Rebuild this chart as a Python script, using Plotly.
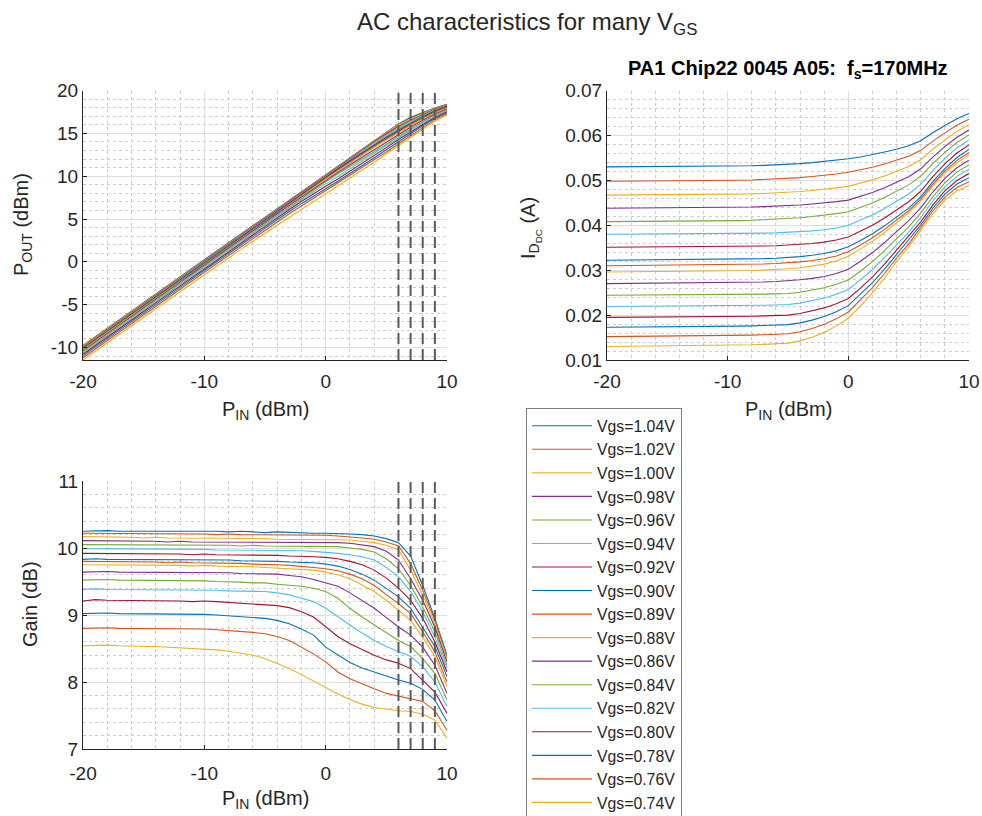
import plotly.graph_objects as go

W, H = 982, 816
FONT = "Liberation Sans, Arial, Helvetica, sans-serif"
TXT = "#262626"

# ---------------- data ----------------
pin_dbm = list(range(-20, 11))

vgs_labels = ["Vgs=1.04V", "Vgs=1.02V", "Vgs=1.00V", "Vgs=0.98V", "Vgs=0.96V", "Vgs=0.94V",
              "Vgs=0.92V", "Vgs=0.90V", "Vgs=0.89V", "Vgs=0.88V", "Vgs=0.86V", "Vgs=0.84V",
              "Vgs=0.82V", "Vgs=0.80V", "Vgs=0.78V", "Vgs=0.76V", "Vgs=0.74V"]

# Gain (dB) versus Pin, one row per Vgs
gain_db = [
    [10.25, 10.26, 10.26, 10.25, 10.25, 10.25, 10.26, 10.25, 10.25, 10.26, 10.25, 10.25, 10.24, 10.25, 10.24, 10.23, 10.24, 10.23, 10.23, 10.22, 10.22, 10.22, 10.21, 10.20, 10.18, 10.14, 10.08, 9.88, 9.44, 8.95, 8.40],
    [10.22, 10.22, 10.21, 10.21, 10.22, 10.21, 10.21, 10.22, 10.21, 10.21, 10.21, 10.20, 10.21, 10.20, 10.20, 10.20, 10.19, 10.19, 10.19, 10.19, 10.19, 10.18, 10.17, 10.15, 10.13, 10.09, 10.03, 9.77, 9.37, 8.92, 8.37],
    [10.17, 10.17, 10.16, 10.16, 10.16, 10.15, 10.16, 10.15, 10.15, 10.15, 10.15, 10.14, 10.15, 10.14, 10.14, 10.14, 10.13, 10.13, 10.13, 10.13, 10.13, 10.12, 10.12, 10.10, 10.08, 10.04, 9.97, 9.67, 9.30, 8.87, 8.34],
    [10.11, 10.11, 10.10, 10.10, 10.10, 10.10, 10.10, 10.09, 10.10, 10.09, 10.09, 10.09, 10.09, 10.08, 10.08, 10.08, 10.08, 10.08, 10.08, 10.08, 10.08, 10.08, 10.07, 10.05, 10.02, 9.95, 9.82, 9.54, 9.22, 8.82, 8.30],
    [10.05, 10.05, 10.05, 10.04, 10.05, 10.04, 10.04, 10.04, 10.04, 10.04, 10.04, 10.04, 10.04, 10.03, 10.04, 10.03, 10.03, 10.03, 10.03, 10.03, 10.03, 10.02, 10.00, 9.98, 9.94, 9.84, 9.69, 9.44, 9.12, 8.75, 8.25],
    [9.99, 9.99, 9.99, 9.98, 9.99, 9.98, 9.98, 9.98, 9.98, 9.98, 9.98, 9.97, 9.97, 9.97, 9.97, 9.97, 9.96, 9.96, 9.96, 9.95, 9.94, 9.92, 9.90, 9.87, 9.82, 9.71, 9.57, 9.35, 9.05, 8.67, 8.20],
    [9.92, 9.92, 9.91, 9.91, 9.92, 9.91, 9.91, 9.91, 9.91, 9.90, 9.91, 9.90, 9.90, 9.90, 9.89, 9.89, 9.89, 9.88, 9.88, 9.87, 9.86, 9.84, 9.80, 9.75, 9.67, 9.55, 9.40, 9.22, 8.95, 8.60, 8.15],
    [9.83, 9.84, 9.83, 9.83, 9.83, 9.82, 9.83, 9.82, 9.82, 9.82, 9.83, 9.82, 9.82, 9.81, 9.81, 9.80, 9.80, 9.79, 9.79, 9.78, 9.76, 9.73, 9.68, 9.61, 9.52, 9.40, 9.27, 9.10, 8.82, 8.53, 8.08],
    [9.80, 9.80, 9.79, 9.79, 9.79, 9.79, 9.79, 9.78, 9.79, 9.78, 9.78, 9.78, 9.77, 9.77, 9.76, 9.76, 9.75, 9.74, 9.73, 9.71, 9.69, 9.66, 9.61, 9.54, 9.44, 9.31, 9.17, 9.02, 8.75, 8.45, 8.00],
    [9.75, 9.75, 9.75, 9.74, 9.75, 9.74, 9.74, 9.74, 9.74, 9.73, 9.74, 9.73, 9.73, 9.72, 9.72, 9.71, 9.70, 9.70, 9.69, 9.67, 9.64, 9.60, 9.54, 9.45, 9.35, 9.22, 9.07, 8.92, 8.67, 8.38, 7.93],
    [9.64, 9.65, 9.65, 9.64, 9.64, 9.63, 9.64, 9.64, 9.63, 9.63, 9.64, 9.63, 9.63, 9.62, 9.62, 9.62, 9.61, 9.59, 9.57, 9.53, 9.48, 9.43, 9.33, 9.22, 9.10, 8.96, 8.82, 8.70, 8.52, 8.25, 7.83],
    [9.52, 9.53, 9.53, 9.52, 9.52, 9.52, 9.51, 9.51, 9.51, 9.51, 9.51, 9.50, 9.50, 9.49, 9.48, 9.48, 9.46, 9.45, 9.43, 9.40, 9.35, 9.25, 9.10, 8.97, 8.85, 8.73, 8.62, 8.53, 8.35, 8.13, 7.73],
    [9.38, 9.39, 9.38, 9.38, 9.38, 9.37, 9.38, 9.37, 9.37, 9.37, 9.37, 9.37, 9.36, 9.36, 9.35, 9.35, 9.33, 9.30, 9.25, 9.20, 9.10, 8.97, 8.85, 8.73, 8.62, 8.53, 8.45, 8.38, 8.23, 8.00, 7.63],
    [9.21, 9.23, 9.22, 9.22, 9.21, 9.21, 9.21, 9.21, 9.21, 9.20, 9.21, 9.20, 9.19, 9.18, 9.17, 9.16, 9.14, 9.11, 9.05, 8.97, 8.82, 8.68, 8.57, 8.48, 8.40, 8.33, 8.28, 8.20, 8.03, 7.85, 7.53],
    [9.02, 9.03, 9.03, 9.02, 9.02, 9.02, 9.02, 9.01, 9.01, 9.01, 9.01, 9.00, 8.99, 8.98, 8.97, 8.95, 8.92, 8.87, 8.79, 8.70, 8.52, 8.40, 8.29, 8.21, 8.15, 8.08, 8.03, 7.98, 7.89, 7.73, 7.41],
    [8.80, 8.81, 8.81, 8.80, 8.80, 8.80, 8.80, 8.79, 8.79, 8.79, 8.79, 8.78, 8.77, 8.76, 8.74, 8.72, 8.68, 8.62, 8.52, 8.42, 8.30, 8.15, 8.05, 7.97, 7.90, 7.83, 7.79, 7.75, 7.71, 7.57, 7.28],
    [8.54, 8.55, 8.55, 8.54, 8.53, 8.53, 8.53, 8.52, 8.51, 8.51, 8.50, 8.48, 8.46, 8.43, 8.40, 8.35, 8.28, 8.20, 8.11, 8.01, 7.92, 7.82, 7.74, 7.67, 7.62, 7.59, 7.57, 7.56, 7.52, 7.43, 7.16],
]

# DC drain current (A) versus Pin, one row per Vgs
id_dc_a = [
    [0.05300, 0.05301, 0.05302, 0.05303, 0.05304, 0.05305, 0.05307, 0.05309, 0.05311, 0.05313, 0.05314, 0.05320, 0.05325, 0.05334, 0.05343, 0.05356, 0.05372, 0.05394, 0.05417, 0.05446, 0.05480, 0.0552, 0.0557, 0.0563, 0.0569, 0.0577, 0.0588, 0.0606, 0.0622, 0.0637, 0.0649],
    [0.04980, 0.04981, 0.04982, 0.04984, 0.04985, 0.04986, 0.04988, 0.04990, 0.04992, 0.04994, 0.04996, 0.05002, 0.05008, 0.05018, 0.05028, 0.05042, 0.05060, 0.05084, 0.05110, 0.05142, 0.05180, 0.05233, 0.05292, 0.05363, 0.05442, 0.05538, 0.05667, 0.05873, 0.06057, 0.06225, 0.0636],
    [0.04670, 0.04671, 0.04672, 0.04674, 0.04675, 0.04676, 0.04678, 0.04680, 0.04682, 0.04684, 0.04686, 0.04692, 0.04698, 0.04708, 0.04718, 0.04732, 0.04750, 0.04774, 0.04800, 0.04832, 0.04870, 0.04936, 0.0501, 0.05096, 0.05193, 0.05307, 0.05458, 0.05693, 0.05902, 0.06091, 0.0624],
    [0.04380, 0.04381, 0.04382, 0.04383, 0.04384, 0.04385, 0.04387, 0.04389, 0.04391, 0.04393, 0.04394, 0.04400, 0.04405, 0.04414, 0.04423, 0.04436, 0.04452, 0.04474, 0.04497, 0.04526, 0.04560, 0.0464, 0.04728, 0.04833, 0.04948, 0.05081, 0.05256, 0.05518, 0.0575, 0.05958, 0.0612],
    [0.04080, 0.04081, 0.04083, 0.04084, 0.04085, 0.04087, 0.04089, 0.04091, 0.04093, 0.04095, 0.04098, 0.04104, 0.04111, 0.04122, 0.04133, 0.04148, 0.04168, 0.04194, 0.04223, 0.04258, 0.04300, 0.04394, 0.04497, 0.04616, 0.0475, 0.04899, 0.05092, 0.05374, 0.05622, 0.05841, 0.0601],
    [0.03800, 0.03801, 0.03802, 0.03803, 0.03804, 0.03805, 0.03806, 0.03807, 0.03808, 0.03810, 0.03812, 0.03815, 0.03818, 0.03824, 0.03830, 0.03840, 0.03854, 0.03874, 0.03900, 0.03940, 0.04000, 0.0411, 0.0423, 0.04371, 0.04526, 0.04695, 0.0491, 0.05218, 0.05488, 0.05721, 0.0590],
    [0.03510, 0.03511, 0.03512, 0.03514, 0.03515, 0.03516, 0.03517, 0.03518, 0.03519, 0.03522, 0.03524, 0.03527, 0.03531, 0.03538, 0.03545, 0.03556, 0.03572, 0.03595, 0.03625, 0.03671, 0.03740, 0.03865, 0.04002, 0.0416, 0.04337, 0.04523, 0.04757, 0.05081, 0.05366, 0.05608, 0.0579],
    [0.03220, 0.03222, 0.03223, 0.03225, 0.03226, 0.03228, 0.03229, 0.03231, 0.03232, 0.03235, 0.03238, 0.03243, 0.03247, 0.03256, 0.03265, 0.03280, 0.03301, 0.03331, 0.03370, 0.03430, 0.03520, 0.03659, 0.03811, 0.03987, 0.0418, 0.04381, 0.04633, 0.0497, 0.05263, 0.05508, 0.0569],
    [0.03100, 0.03102, 0.03103, 0.03105, 0.03106, 0.03108, 0.03109, 0.03111, 0.03112, 0.03116, 0.03119, 0.03123, 0.03128, 0.03137, 0.03147, 0.03162, 0.03184, 0.03215, 0.03255, 0.03317, 0.03410, 0.03558, 0.03722, 0.03907, 0.04113, 0.04323, 0.04581, 0.04915, 0.05207, 0.05445, 0.0562],
    [0.02960, 0.02962, 0.02964, 0.02965, 0.02967, 0.02969, 0.02971, 0.02972, 0.02974, 0.02978, 0.02981, 0.02986, 0.02992, 0.03002, 0.03013, 0.03030, 0.03055, 0.03090, 0.03135, 0.03205, 0.03310, 0.03468, 0.03641, 0.03839, 0.04057, 0.04275, 0.04539, 0.04872, 0.0516, 0.05391, 0.0556],
    [0.02700, 0.02702, 0.02703, 0.02705, 0.02706, 0.02708, 0.02710, 0.02711, 0.02713, 0.02716, 0.02719, 0.02724, 0.02729, 0.02738, 0.02748, 0.02764, 0.02786, 0.02818, 0.02860, 0.02924, 0.03020, 0.03197, 0.03392, 0.03615, 0.03861, 0.04101, 0.04388, 0.0474, 0.05042, 0.0528, 0.0545],
    [0.02440, 0.02441, 0.02442, 0.02443, 0.02444, 0.02445, 0.02447, 0.02449, 0.02450, 0.02452, 0.02454, 0.02457, 0.02460, 0.02466, 0.02472, 0.02481, 0.02508, 0.02552, 0.02610, 0.02685, 0.02780, 0.02975, 0.03191, 0.03435, 0.03703, 0.03962, 0.04271, 0.04633, 0.04944, 0.05183, 0.0535],
    [0.02190, 0.02191, 0.02192, 0.02193, 0.02195, 0.02196, 0.02198, 0.02200, 0.02201, 0.02203, 0.02205, 0.02209, 0.02213, 0.02219, 0.02226, 0.02236, 0.02266, 0.02315, 0.02380, 0.02464, 0.02570, 0.02784, 0.03015, 0.0328, 0.0357, 0.03846, 0.04167, 0.0454, 0.04853, 0.05089, 0.0525],
    [0.01950, 0.01951, 0.01953, 0.01954, 0.01955, 0.01956, 0.01958, 0.01961, 0.01963, 0.01965, 0.01967, 0.01971, 0.01975, 0.01982, 0.01990, 0.02000, 0.02034, 0.02089, 0.02160, 0.02252, 0.02370, 0.02601, 0.02851, 0.03135, 0.03446, 0.03738, 0.04074, 0.04449, 0.04766, 0.04997, 0.0515],
    [0.01730, 0.01731, 0.01733, 0.01734, 0.01736, 0.01737, 0.01740, 0.01742, 0.01744, 0.01747, 0.01749, 0.01754, 0.01759, 0.01766, 0.01776, 0.01788, 0.01826, 0.01888, 0.01970, 0.02076, 0.02210, 0.02455, 0.0272, 0.03022, 0.03353, 0.03658, 0.04006, 0.04379, 0.04695, 0.04918, 0.0506],
    [0.01520, 0.01522, 0.01523, 0.01525, 0.01527, 0.01528, 0.01531, 0.01534, 0.01537, 0.01539, 0.01542, 0.01548, 0.01553, 0.01561, 0.01572, 0.01586, 0.01630, 0.01702, 0.01795, 0.01916, 0.02070, 0.02328, 0.02609, 0.02926, 0.03271, 0.03587, 0.03943, 0.04318, 0.04628, 0.0484, 0.0497],
    [0.01300, 0.01302, 0.01304, 0.01306, 0.01308, 0.01310, 0.01313, 0.01316, 0.01319, 0.01322, 0.01325, 0.01332, 0.01338, 0.01347, 0.01360, 0.01376, 0.01426, 0.01508, 0.01615, 0.01754, 0.01930, 0.02201, 0.02496, 0.0283, 0.03193, 0.0352, 0.03886, 0.04255, 0.04561, 0.04762, 0.0488],
]

compression_pin_dbm = [6, 7, 8, 9]

x_ticks = [-20, -10, 0, 10]
pout_ticks = [-10, -5, 0, 5, 10, 15, 20]
id_ticks = [0.01, 0.02, 0.03, 0.04, 0.05, 0.06, 0.07]
gain_ticks = [7, 8, 9, 10, 11]

matlab_colors = ["#0072BD", "#D95319", "#EDB120", "#7E2F8E", "#77AC30", "#4DBEEE", "#A2142F"]

# ---------------- layout helpers ----------------
def px_x(p):
    return p / W

def px_y(p):
    return 1 - p / H

TL = (83, 447, 90.5, 360)
TR = (607, 969, 90.5, 360)
BL = (83, 447, 481, 749)


def dom(box):
    x0, x1, y0, y1 = box
    return [px_x(x0), px_x(x1)], [px_y(y1), px_y(y0)]


def axis(domain, rng, tickvals, ticktext, minor_dtick, anchor, standoff=0):
    return dict(
        domain=domain, range=rng, anchor=anchor,
        tickmode="array", tickvals=tickvals, ticktext=ticktext,
        showline=True, linecolor=TXT, linewidth=1, mirror=False,
        ticks="inside", ticklen=4, tickwidth=1, tickcolor=TXT,
        ticklabelstandoff=standoff,
        showgrid=True, gridcolor="#dfdfdf", gridwidth=1, zeroline=False,
        tickfont=dict(family=FONT, size=19, color=TXT),
        minor=dict(dtick=minor_dtick, tick0=0, showgrid=True, gridcolor="#cdcdcd",
                   griddash="dot", gridwidth=1, ticks=""),
        automargin=False, fixedrange=True,
    )


fig = go.Figure()

for i, lab in enumerate(vgs_labels):
    col = matlab_colors[i % len(matlab_colors)]
    pout = [p + g for p, g in zip(pin_dbm, gain_db[i])]
    fig.add_trace(go.Scatter(x=pin_dbm, y=pout, mode="lines", line=dict(color=col, width=1.1),
                             xaxis="x", yaxis="y", showlegend=False, name=lab))
    fig.add_trace(go.Scatter(x=pin_dbm, y=id_dc_a[i], mode="lines", line=dict(color=col, width=1.1),
                             xaxis="x2", yaxis="y2", showlegend=True, name=lab))
    fig.add_trace(go.Scatter(x=pin_dbm, y=gain_db[i], mode="lines", line=dict(color=col, width=1.1),
                             xaxis="x3", yaxis="y3", showlegend=False, name=lab))

xt = [str(v) for v in x_ticks]
dx1, dy1 = dom(TL)
dx2, dy2 = dom(TR)
dx3, dy3 = dom(BL)

pout_min = min(p + g for row in gain_db for p, g in zip(pin_dbm, row))

fig.update_layout(
    width=W, height=H,
    margin=dict(l=0, r=0, t=0, b=0, autoexpand=False),
    paper_bgcolor="white", plot_bgcolor="white",
    font=dict(family=FONT, color=TXT),
    xaxis=axis(dx1, [-20, 10], x_ticks, xt, 2, "y", standoff=4),
    yaxis=axis(dy1, [pout_min, 20], pout_ticks, [str(v) for v in pout_ticks], 1, "x"),
    xaxis2=axis(dx2, [-20, 10], x_ticks, xt, 2, "y2", standoff=4),
    yaxis2=axis(dy2, [0.01, 0.07], id_ticks, ["%.2f" % v for v in id_ticks], 0.002, "x2"),
    xaxis3=axis(dx3, [-20, 10], x_ticks, xt, 2, "y3", standoff=7),
    yaxis3=axis(dy3, [7, 11], gain_ticks, [str(v) for v in gain_ticks], 0.2, "x3"),
    legend=dict(x=px_x(526), y=px_y(408), xanchor="left", yanchor="top",
                bgcolor="white", bordercolor="#7f7f7f", borderwidth=1,
                font=dict(family=FONT, size=15.8, color=TXT),
                itemwidth=60, tracegroupgap=0, itemclick=False, itemdoubleclick=False),
    showlegend=True,
)

# dashed vertical markers
for p in compression_pin_dbm:
    for xr, yr in (("x", "y domain"), ("x3", "y3 domain")):
        fig.add_shape(type="line", xref=xr, yref=yr, x0=p, x1=p, y0=0, y1=1,
                      line=dict(color="#5a5a5a", width=2, dash="11px,5px"), layer="above")

ann = []
ann.append(dict(text="AC characteristics for many V<sub>GS</sub>", x=px_x(527), y=px_y(23),
                xanchor="center", yanchor="middle", font=dict(size=24, color=TXT, family=FONT)))
ann.append(dict(text="<b>PA1 Chip22 0045 A05:\u00a0\u00a0f<sub>s</sub>=170MHz</b>", x=px_x(788), y=px_y(69),
                xanchor="center", yanchor="middle", font=dict(size=20, color="black", family=FONT)))
ann.append(dict(text="P<sub>IN</sub> (dBm)", x=px_x(265), y=px_y(410), xanchor="center", yanchor="middle",
                font=dict(size=20, color=TXT, family=FONT)))
ann.append(dict(text="P<sub>IN</sub> (dBm)", x=px_x(788), y=px_y(410), xanchor="center", yanchor="middle",
                font=dict(size=20, color=TXT, family=FONT)))
ann.append(dict(text="P<sub>IN</sub> (dBm)", x=px_x(265), y=px_y(799), xanchor="center", yanchor="middle",
                font=dict(size=20, color=TXT, family=FONT)))
ann.append(dict(text="P<sub>OUT</sub> (dBm)", x=px_x(22), y=px_y(225), xanchor="center", yanchor="middle",
                textangle=-90, font=dict(size=20, color=TXT, family=FONT)))
ann.append(dict(text="I<sub>D<sub>DC</sub></sub> (A)", x=px_x(530), y=px_y(228), xanchor="center", yanchor="middle",
                textangle=-90, font=dict(size=20, color=TXT, family=FONT)))
ann.append(dict(text="Gain (dB)", x=px_x(30), y=px_y(604), xanchor="center", yanchor="middle",
                textangle=-90, font=dict(size=20, color=TXT, family=FONT)))
for a in ann:
    a.update(xref="paper", yref="paper", showarrow=False)
fig.update_layout(annotations=ann)

fig.write_html("out.html", config={"displayModeBar": False},
               post_script="document.body.style.margin='0';")
